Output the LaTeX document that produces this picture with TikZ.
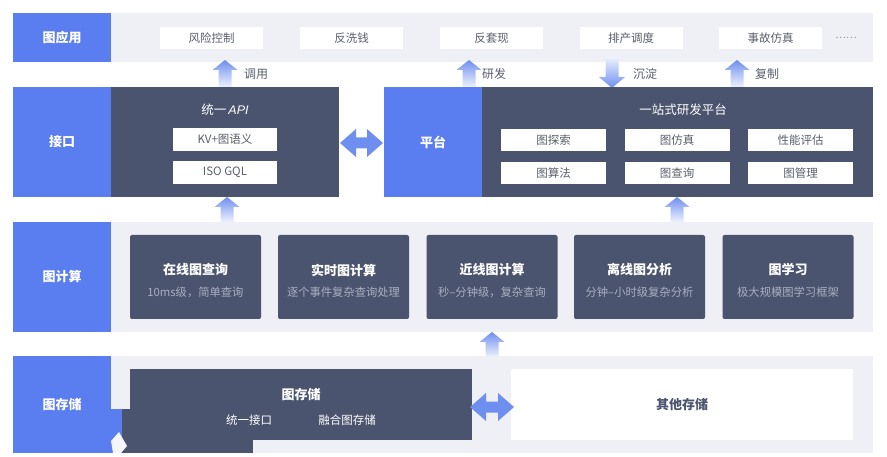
\documentclass[tikz,border=0pt]{standalone}
\usepackage{fontspec}
\setmainfont{Noto Sans CJK SC}
\newfontfamily\latinit{Liberation Sans}
\definecolor{lblblue}{HTML}{5A7DF0}
\definecolor{darkbox}{HTML}{4B546E}
\definecolor{bandc}{HTML}{EEF0F5}
\definecolor{arrblue}{HTML}{6F8FF0}
\definecolor{txtgray}{HTML}{5A5F6B}
\definecolor{subgray}{HTML}{A9AFC2}
\newcommand\blockup[3]{\shade[top color=arrblue, bottom color=arrblue!12]
  ({#1-6.5},#2) -- ({#1-6.5},{#3+10}) -- ({#1-12.5},{#3+10}) -- (#1,#3) --
  ({#1+12.5},{#3+10}) -- ({#1+6.5},{#3+10}) -- ({#1+6.5},#2) -- cycle;}
\newcommand\blockdown[3]{\shade[top color=arrblue!12, bottom color=arrblue]
  ({#1-6.5},#2) -- ({#1-6.5},{#3-11}) -- ({#1-13},{#3-11}) -- (#1,#3) --
  ({#1+13},{#3-11}) -- ({#1+6.5},{#3-11}) -- ({#1+6.5},#2) -- cycle;}
\newcommand\blockdbl[3]{\fill[arrblue]
  (#1,#3) -- ({#1+16},{#3-14}) -- ({#1+16},{#3-5.5}) -- ({#2-16},{#3-5.5}) --
  ({#2-16},{#3-14}) -- (#2,#3) -- ({#2-16},{#3+14}) -- ({#2-16},{#3+5.5}) --
  ({#1+16},{#3+5.5}) -- ({#1+16},{#3+14}) -- cycle;}
\begin{document}
\begin{tikzpicture}[x=1pt,y=-1pt,
  box/.style={rectangle, inner sep=0pt, outer sep=0pt, anchor=center},
  lbl/.style={box, fill=lblblue, text=white, font=\fontsize{13}{15}\selectfont\bfseries},
  bandbox/.style={box, fill=bandc},
  dark/.style={box, fill=darkbox},
  wbox/.style={box, fill=white, text=txtgray, font=\fontsize{11.5}{13}\selectfont},
  card/.style={box, fill=darkbox, rounded corners=2pt, minimum width=131pt, minimum height=84pt},
  ttl/.style={text=white, font=\fontsize{13}{15}\selectfont\bfseries, inner sep=0pt},
  ttlr/.style={text=white, font=\fontsize{12.5}{15}\selectfont, inner sep=0pt},
  csub/.style={text=subgray, font=\fontsize{11.3}{13}\selectfont, inner sep=0pt},
  arrlbl/.style={text=txtgray, font=\fontsize{12}{14}\selectfont, anchor=west, inner sep=0pt},
]
\useasboundingbox (0,0) rectangle (887,457);
\fill[white] (0,0) rectangle (887,457);

% ---------- Row 1: 图应用 ----------
\node[lbl, minimum width=98pt, minimum height=49pt] (l1) at (62,37.5) {图应用};
\node[bandbox, minimum width=762pt, minimum height=49pt] (b1) at (492,37.5) {};
\node[wbox, minimum width=103pt, minimum height=22pt] (a1) at (211.5,38) {风险控制};
\node[wbox, minimum width=103pt, minimum height=22pt] (a2) at (351.5,38) {反洗钱};
\node[wbox, minimum width=103pt, minimum height=22pt] (a3) at (491.5,38) {反套现};
\node[wbox, minimum width=103pt, minimum height=22pt] (a4) at (631,38) {排产调度};
\node[wbox, minimum width=103pt, minimum height=22pt] (a5) at (770.5,38) {事故仿真};
\node[text=txtgray!70, font=\fontsize{10}{12}\selectfont, inner sep=0pt] (a6) at (846,38) {……};

% ---------- arrows row1-row2 ----------
\blockup{225}{87}{60}
\node[arrlbl] (t1) at (244,74) {调用};
\blockup{469}{87}{60}
\node[arrlbl] (t2) at (482,74) {研发};
\blockdown{612}{57}{88}
\node[arrlbl] (t3) at (633,74) {沉淀};
\blockup{737}{87}{60}
\node[arrlbl] (t4) at (755,74) {复制};

% ---------- Row 2: 接口 / 平台 ----------
\node[lbl, minimum width=98pt, minimum height=110pt] (l2) at (62,142) {接口};
\node[dark, minimum width=228pt, minimum height=110pt] (api) at (225,142) {};
\node[ttlr] (apit) at (225,110) {统一\,{\latinit\itshape API}};
\node[wbox, minimum width=104pt, minimum height=23pt] (kv) at (225,139.5) {KV+图语义};
\node[wbox, minimum width=104pt, minimum height=23pt] (gql) at (225,172.5) {ISO GQL};
\blockdbl{340}{383}{143}
\node[lbl, minimum width=98pt, minimum height=110pt] (pt) at (433,142) {平台};
\node[dark, minimum width=391pt, minimum height=110pt] (plat) at (677.5,142) {};
\node[ttlr] (platt) at (683,110) {一站式研发平台};
\node[wbox, minimum width=105pt, minimum height=22pt] (p1) at (553.5,140) {图探索};
\node[wbox, minimum width=105pt, minimum height=22pt] (p2) at (677,140) {图仿真};
\node[wbox, minimum width=105pt, minimum height=22pt] (p3) at (800.5,140) {性能评估};
\node[wbox, minimum width=105pt, minimum height=22pt] (p4) at (553.5,173) {图算法};
\node[wbox, minimum width=105pt, minimum height=22pt] (p5) at (677,173) {图查询};
\node[wbox, minimum width=105pt, minimum height=22pt] (p6) at (800.5,173) {图管理};

% ---------- arrows row2-row3 ----------
\blockup{227}{222}{197}
\blockup{677}{222}{197}

% ---------- Row 3: 图计算 ----------
\node[lbl, minimum width=98pt, minimum height=110pt] (l3) at (62,277) {图计算};
\node[bandbox, minimum width=762pt, minimum height=110pt] (b3) at (492,277) {};
\node[card] (c1) at (195.5,277) {};
\node[card] (c2) at (343.5,277) {};
\node[card] (c3) at (492,277) {};
\node[card] (c4) at (639.5,277) {};
\node[card] (c5) at (788,277) {};
\node[ttl] at (195.5,270) {在线图查询};
\node[csub] at (195.5,292) {10ms级，简单查询};
\node[ttl] at (343.5,270) {实时图计算};
\node[csub] at (343.5,292) {逐个事件复杂查询处理};
\node[ttl] at (492,270) {近线图计算};
\node[csub] at (492,292) {秒–分钟级，复杂查询};
\node[ttl] at (639.5,270) {离线图分析};
\node[csub] at (639.5,292) {分钟–小时级复杂分析};
\node[ttl] at (788,270) {图学习};
\node[csub] at (788,292) {极大规模图学习框架};

% ---------- arrow row3-row4 ----------
\blockup{492}{357}{332}

% ---------- Row 4: 图存储 ----------
\node[lbl, minimum width=98pt, minimum height=97pt] (l4) at (62,404.5) {图存储};
\node[bandbox, minimum width=762pt, minimum height=97pt] (b4) at (492,404.5) {};
\fill[lblblue] (111,409) rectangle (122,453);
\fill[darkbox] (122,409) rectangle (253,453);
\fill[bandc!60] (111,441) -- (119,432) -- (127,446) -- (121,453) -- (113,453) -- cycle;
\node[dark, minimum width=342pt, minimum height=71pt] (st) at (301,404.5) {};
\node[ttl] at (301,395) {图存储};
\node[text=white, font=\fontsize{11.5}{13}\selectfont, inner sep=0pt] (s1) at (249,420) {统一接口};
\node[text=white, font=\fontsize{11.5}{13}\selectfont, inner sep=0pt] (s2) at (347,420) {融合图存储};
\node[box, fill=white, minimum width=342pt, minimum height=71pt,
      text=darkbox, font=\fontsize{13}{15}\selectfont\bfseries] (other) at (682,404.5) {其他存储};
\blockdbl{470}{514}{407}
\end{tikzpicture}
\end{document}
